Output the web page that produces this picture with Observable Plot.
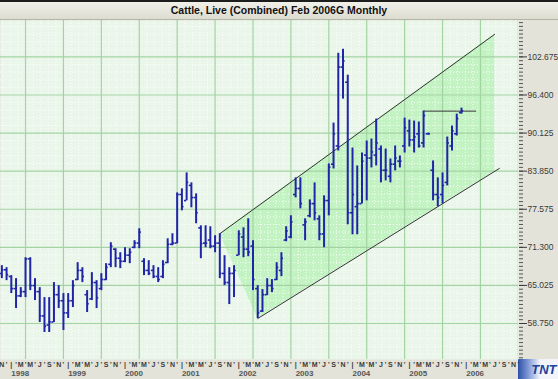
<!DOCTYPE html>
<html><head><meta charset="utf-8">
<script src="https://cdn.jsdelivr.net/npm/d3@7"></script>
<script src="https://cdn.jsdelivr.net/npm/@observablehq/plot@0.6"></script>
<style>
html,body{margin:0;padding:0;background:#e3e3d9;width:558px;height:379px;overflow:hidden;font-family:Arial,"Liberation Sans",sans-serif;}
#wrap{position:relative;width:558px;height:379px;}
#title{box-sizing:border-box;height:20px;border-top:2px solid #1d1d1d;border-bottom:1px solid #b5b5a5;background:linear-gradient(#f1f1ea,#dcdcd0);text-align:center;font-weight:bold;font-size:10.5px;line-height:17px;color:#111;padding-left:0;}
#chart{position:relative;z-index:1;}
#chart svg{display:block;}
#logobg{position:absolute;z-index:0;left:518px;top:359px;width:40px;height:20px;background:linear-gradient(90deg,#2d4fa8 0%,#8ea6dc 30%,#f2f4fa 55%);}
</style></head>
<body><div id="wrap"><div id="logobg"></div><div id="title">Cattle, Live (Combined) Feb 2006G Monthly</div><div id="chart"></div></div>
<script>
// ---- data (monthly OHLC, first bar Nov 1997) ----
const firstMonth = "1997-11";
const high = [68.28,67.95,66.64,66.14,64.66,69.59,69.59,66.14,64.66,63.02,63.02,65.49,64.99,63.68,
63.68,65.81,68.77,67.95,64.17,67.13,65.81,66.96,68.61,72.06,71.07,70.41,
71.24,71.07,72.39,74.36,69.43,69.10,68.28,67.95,69.10,72.71,73.54,80.27,
80.93,83.56,81.92,80.11,74.85,74.85,74.69,73.21,73.54,69.92,67.95,68.28,
74.03,74.52,76.00,72.39,64.99,64.34,66.14,65.98,68.77,70.41,74.69,76.49,
82.74,82.74,76.00,79.12,81.92,76.49,79.78,85.04,91.77,103.27,103.93,99.66,
87.66,84.71,86.84,88.81,89.14,92.43,87.99,87.50,85.86,87.99,86.35,92.59,
92.26,92.10,91.94,93.74,90.13,85.53,82.74,83.56,89.47,91.28,93.25,94.23];
const low = [66.14,65.81,63.68,61.21,63.02,63.02,64.17,62.53,58.91,57.27,57.27,58.91,61.21,57.60,
59.57,61.38,65.81,65.49,60.56,62.53,61.21,64.17,65.81,67.95,67.95,67.79,
68.77,68.61,71.07,71.07,66.64,66.64,66.14,65.49,66.14,68.61,71.56,71.89,
77.31,78.96,77.81,75.18,69.43,71.24,71.07,70.41,66.14,64.99,61.87,63.02,
69.92,69.59,69.76,64.17,59.57,60.56,63.35,63.84,65.81,66.47,72.22,72.71,
79.45,77.64,72.39,76.16,75.67,72.39,71.24,76.49,84.21,87.17,95.72,75.01,
73.37,73.37,78.46,78.96,84.38,84.71,81.92,82.24,81.92,83.89,84.38,86.84,
87.83,86.84,87.66,87.66,89.80,78.96,77.97,78.46,81.42,87.17,89.64,93.25];
const open = [67.0,67.6,66.5,64.5,63.3,64.0,69.4,65.0,64.0,60.0,58.5,59.0,63.5,62.5,
60.5,62.5,66.0,67.5,63.5,62.8,65.5,64.5,66.0,68.5,71.0,69.5,
69.0,70.0,71.3,72.0,69.0,67.5,67.5,66.5,66.5,68.8,71.8,72.0,
80.0,79.0,81.5,79.5,74.5,72.0,72.5,71.5,72.0,67.0,65.5,67.0,
70.0,73.0,71.0,71.5,64.5,60.8,63.5,65.0,66.0,67.5,72.5,73.0,
80.0,81.0,75.0,76.5,78.5,76.0,73.5,79.0,85.0,88.0,101.0,98.5,
77.0,78.0,78.5,86.5,86.0,86.5,87.5,84.0,83.0,85.0,85.5,88.0,
90.5,89.0,90.0,88.5,90.0,84.0,80.0,80.0,82.0,88.0,90.0,93.5];
const close = [67.6,66.8,64.5,63.3,64.0,69.4,65.0,64.0,60.0,58.3,59.0,63.5,62.5,60.5,
62.5,65.0,67.5,66.5,62.0,65.5,63.0,66.0,68.0,71.5,69.5,69.0,
70.0,70.5,72.0,73.8,67.5,67.0,66.5,66.0,68.5,71.8,72.0,80.0,
78.0,82.0,79.5,77.0,71.9,72.0,71.5,72.0,67.0,65.5,67.0,67.5,
73.5,71.0,70.5,66.0,60.5,63.5,65.0,64.5,68.0,69.5,74.0,75.5,
81.0,78.5,75.5,78.5,77.0,73.5,79.0,84.5,90.0,101.0,102.0,77.0,
80.0,78.5,85.5,86.0,87.0,88.5,84.0,84.0,85.0,86.0,85.5,91.0,
89.0,89.5,88.0,93.0,90.0,80.0,79.5,81.5,88.5,90.5,92.5,93.8];

// drawn lines (channel and resistance)
const upperMonths = ["2001-09", "2006-07"];
const upperValues = [73.54, 106.4];
const lowerMonths = ["2002-05", "2006-08"];
const lowerValues = [59.57, 84.3];
const resistMonths = ["2005-04", "2006-03"];
const resistValues = [93.74, 93.74];

// axis labels and logo
const yTicks = [58.75, 65.025, 71.3, 77.575, 83.85, 90.125, 96.4, 102.675];
const monthLetters = ["|", "'", "M", "'", "M", "'", "J", "'", "S", "'", "N", "'"];
const years = ["1998", "1999", "2000", "2001", "2002", "2003", "2004", "2005", "2006"];
const logoText = ["TNT"];

// ---- helpers ----
const idx = s => { const [y, m] = s.split("-").map(Number); return (y - 1998) * 12 + (m - 1); };
const m0 = idx(firstMonth);
const bars = high.map((h, i) => ({m: m0 + i, o: open[i], h, l: low[i], c: close[i]}));

const uS = idx(upperMonths[0]), uE = idx(upperMonths[1]);
const lS = idx(lowerMonths[0]), lE = idx(lowerMonths[1]);
const upperAt = m => upperValues[0] + (m - uS) * (upperValues[1] - upperValues[0]) / (uE - uS);
const lowerAt = m => lowerValues[0] + (m - lS) * (lowerValues[1] - lowerValues[0]) / (lE - lS);
const fillPts = [
  {m: uS, y1: upperValues[0], y2: upperValues[0]},
  {m: lS, y1: lowerValues[0], y2: upperAt(lS)},
  {m: uE, y1: lowerAt(uE), y2: upperValues[1]}
];
const upperLine = upperMonths.map((s, i) => ({m: idx(s), v: upperValues[i]}));
const lowerLine = lowerMonths.map((s, i) => ({m: idx(s), v: lowerValues[i]}));
const resistLine = resistMonths.map((s, i) => ({m: idx(s), v: resistValues[i]}));

const xDomain = [-2.28, 107.03];
const yDomain = [52.82, 108.67];
const step = yTicks[1] - yTicks[0];
const gridY = d3.range(yTicks[0] - step, 110, step);
const gridYMinor = d3.range(yTicks[0] - step, 110, step / 5).filter((d, i) => i % 5 !== 0);
const gridX = d3.range(-5, 108.5, 8);
const gridXMinor = d3.range(-5, 108.5, 1.6).filter((d, i) => i % 5 !== 0);
const minorTicks = d3.range(yTicks[0] - step, 110, step / 10).filter(v => v > yDomain[0] && v < yDomain[1]);
const monthIdx = d3.range(-2, 108);
const janIdx = years.map(y => idx(y + "-01"));

const barColor = "#1f25a6";

const chart = Plot.plot({
  width: 558, height: 359,
  marginTop: 0, marginLeft: 0, marginRight: 40, marginBottom: 20,
  style: {background: "transparent", fontFamily: "Arial, 'Liberation Sans', sans-serif", overflow: "visible"},
  x: {type: "linear", domain: xDomain, axis: null, label: null},
  y: {domain: yDomain, axis: null, label: null},
  marks: [
    Plot.frame({fill: "#ebf6eb", stroke: null}),
    Plot.areaY(fillPts, {x: "m", y1: "y1", y2: "y2", fill: "#a9f0a9", fillOpacity: 0.6, curve: "linear"}),
    Plot.ruleY(gridYMinor, {stroke: "#ffffff", strokeWidth: 1, strokeDasharray: "1,2", strokeOpacity: 0.9}),
    Plot.ruleX(gridXMinor, {stroke: "#ffffff", strokeWidth: 1, strokeDasharray: "1,2", strokeOpacity: 0.9}),
    Plot.ruleY(gridY, {stroke: "#a3d3a3", strokeWidth: 1.2, clip: true}),
    Plot.ruleX(gridX, {stroke: "#a3d3a3", strokeWidth: 1.2, clip: true}),
    Plot.line(upperLine, {x: "m", y: "v", stroke: "#333", strokeWidth: 1, clip: true}),
    Plot.line(lowerLine, {x: "m", y: "v", stroke: "#333", strokeWidth: 1, clip: true}),
    Plot.line(resistLine, {x: "m", y: "v", stroke: "#333", strokeWidth: 1, clip: true}),
    Plot.ruleX(bars, {x: "m", y1: "l", y2: "h", stroke: barColor, strokeWidth: 2, clip: true}),
    Plot.ruleY(bars, {y: "o", x1: d => d.m - 0.45, x2: "m", stroke: barColor, strokeWidth: 1.6, clip: true}),
    Plot.ruleY(bars, {y: "c", x1: "m", x2: d => d.m + 0.45, stroke: barColor, strokeWidth: 1.6, clip: true}),
    Plot.axisY({anchor: "right", label: null, ticks: minorTicks, tickSize: 4, tickFormat: () => "", color: "#555"}),
    Plot.axisY({anchor: "right", label: null, ticks: yTicks, tickFormat: d3.format(".3f"), tickSize: 8, tickPadding: 1, fontSize: 8.5, color: "#3a3a3a"}),
    Plot.axisX({anchor: "bottom", label: null, ticks: monthIdx, tickFormat: m => monthLetters[((m % 12) + 12) % 12], tickSize: 0, tickPadding: 3, fontSize: 7, fontWeight: "bold", color: "#3a3a3a"}),
    Plot.axisX({anchor: "bottom", label: null, ticks: janIdx, tickFormat: m => years[janIdx.indexOf(m)], tickSize: 0, tickPadding: 11, textAnchor: "start", fontSize: 8, fontWeight: "bold", color: "#555"}),
    Plot.text(logoText, {frameAnchor: "bottom-right", text: d => d, dx: 38, dy: 10, textAnchor: "end", lineAnchor: "middle", fontWeight: "bold", fontStyle: "italic", fontSize: 13, fill: "#23419c"})
  ]
});
document.getElementById("chart").appendChild(chart);
</script>
</body></html>
